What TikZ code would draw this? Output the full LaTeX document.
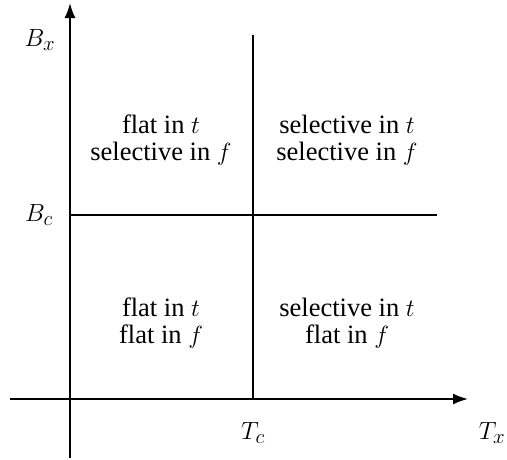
\documentclass[tikz,border=0pt]{standalone}
\usepackage{fontspec}
\setmainfont{Liberation Serif}
\usetikzlibrary{arrows.meta, positioning}

\begin{document}
\begin{tikzpicture}[x=1pt, y=-1pt,
  axis/.style={line width=1.8pt, -{Latex[length=15pt, width=11pt]}},
  divider/.style={line width=1.4pt},
  region/.style={align=center, font=\fontsize{26.5}{27}\selectfont},
  lbl/.style={font=\fontsize{30.5}{31}\selectfont}
]
\useasboundingbox (0,0) rectangle (507,459);

% axis ends and crossings
\coordinate (xstart) at (10,399);
\coordinate (xend)   at (468,399);
\coordinate (ystart) at (70,458);
\coordinate (yend)   at (70,3);
\coordinate (tctop)  at (253,35);
\coordinate (tcbot)  at (253,399);
\coordinate (bcleft) at (70,215);
\coordinate (bcright) at (437,215);

\draw[axis] (xstart) -- (xend);
\draw[axis] (ystart) -- (yend);
\draw[divider] (tctop) -- (tcbot);
\draw[divider] (bcleft) -- (bcright);

% axis labels
\node[lbl] (bx) at (40,40)  {$B_x$};
\node[lbl] (bc) at (39,215) {$B_c$};
\node[lbl] (tc) at (253,433) {$T_c$};
\node[lbl] (tx) at (492,433) {$T_x$};

% the four regions
\node[region] (ul) at (161,140) {flat in $t$\\selective in $f$};
\node[region] (ur) at (347,140) {selective in $t$\\selective in $f$};
\node[region] (ll) at (161,323) {flat in $t$\\flat in $f$};
\node[region] (lr) at (347,323) {selective in $t$\\flat in $f$};
\end{tikzpicture}
\end{document}
